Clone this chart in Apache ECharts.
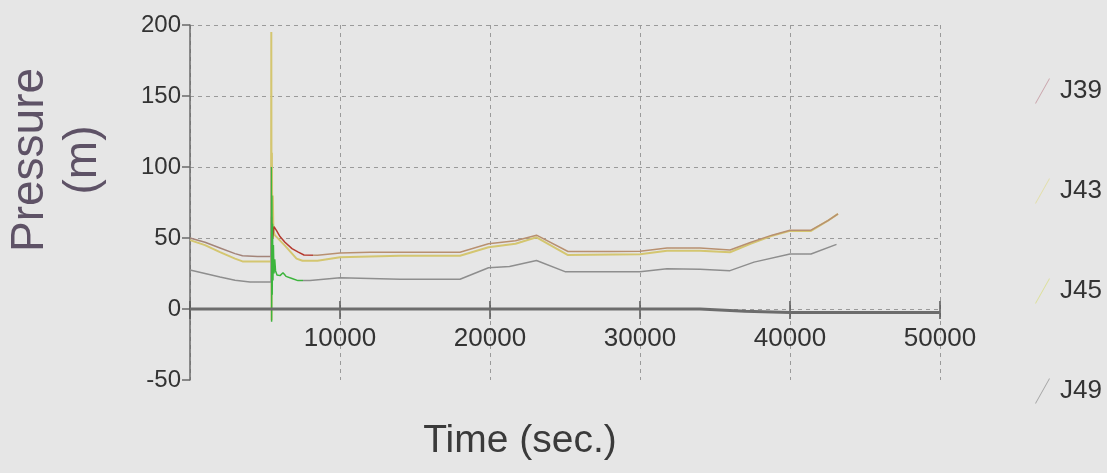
<!DOCTYPE html>
<html>
<head>
<meta charset="utf-8">
<script src="https://cdn.jsdelivr.net/npm/echarts@6/dist/echarts.min.js"></script>
<style>
html,body{margin:0;padding:0;background:#e6e6e6;}
#chart{width:1107px;height:473px;}
</style>
</head>
<body>
<div id="chart"></div>
<script>
// ---- data ----
const seriesNames = ['J39', 'J43', 'J45', 'J49'];
const xTicks = [0, 10000, 20000, 30000, 40000, 50000];
const yTicks = [-50, 0, 50, 100, 150, 200];

const j39T = [0, 1000, 2000, 3000, 3500, 4500, 5400, 5430, 5450, 5480, 5520, 5600, 5780, 6000, 6330, 6800, 7220, 7600, 8500, 10000, 12000, 14000, 16000, 18000, 19900, 21700, 23100, 25200, 28000, 30000, 31800, 34000, 36000, 37400, 38800, 40000, 41400, 42500, 43200];
const j39V = [50, 47, 43, 39, 37.5, 37, 37, 65, 42, 60, 50, 58, 55, 51, 47, 42.5, 40, 38, 37.8, 39.5, 40, 40, 40, 40, 46, 48, 52, 40.5, 40.5, 40.6, 43, 43, 41.6, 47, 52, 55.5, 55.5, 62, 67];

const j43T = [0, 1000, 2000, 3000, 3500, 4500, 5400, 5420, 5440, 5460, 5480, 5520, 5560, 5650, 5780, 6330, 7100, 7500, 8500, 10000, 14000, 18000, 19900, 21700, 23100, 25200, 30000, 31800, 34000, 36000, 37400, 38800, 40000, 41400, 42500, 43200];
const j43V = [48.5, 45, 40, 35.5, 33.5, 33.5, 33.5, 195, -8, 110, 60, 80, 55, 52, 51.6, 44.6, 35.5, 34, 34, 36.5, 37.5, 37.5, 43.5, 46, 50.5, 38, 38.5, 41, 41, 40, 46, 51.5, 55, 55, 62, 67];

const j45T = [0, 1000, 2000, 3000, 4000, 5400, 5420, 5440, 5460, 5480, 5500, 5530, 5560, 5600, 5650, 5700, 5800, 6000, 6200, 6400, 6800, 7200, 8000, 10000, 14000, 18000, 19900, 21300, 23100, 25000, 30000, 31800, 34000, 36000, 37600, 40000, 41400, 43100];
const j45V = [27.4, 25, 22.5, 20.2, 19, 19, 100, -9, 80, 10, 60, 20, 45, 25, 35, 27, 24, 23.5, 25.5, 23, 21.5, 20, 20, 22, 21, 21, 29, 30, 34.2, 26.3, 26.3, 28.3, 28, 27, 33, 38.7, 38.7, 45.5];

const j49T = [0, 34000, 37000, 40000, 50000];
const j49V = [0, 0, -1.5, -2.5, -2.5];

const toPairs = (t, v) => t.map((x, i) => [x, v[i]]);

const chart = echarts.init(document.getElementById('chart'));
const iconPath = 'path://M14,0 L15,0 L1,25 L0,25 Z';
const fontMain = "'Liberation Sans', Arial, sans-serif";
const gridTop = 25, gridBottom = 93, chartH = 473;
// offsets that bring the x-axis tick rows onto the zero level of the y axis
const yMin = yTicks[0], yMax = yTicks[yTicks.length - 1];
const plotH = chartH - gridTop - gridBottom;
const topOffset = -plotH * (yMax / (yMax - yMin));
const bottomOffset = -plotH * (-yMin / (yMax - yMin));

chart.setOption({
  backgroundColor: '#e6e6e6',
  animation: false,
  grid: { left: 190, top: gridTop, right: 167, bottom: gridBottom },
  xAxis: [{
    type: 'value', min: xTicks[0], max: xTicks[xTicks.length - 1], interval: 10000,
    position: 'bottom', offset: bottomOffset,
    axisLine: { show: false, onZero: false },
    axisTick: { show: true, length: 10, lineStyle: { color: '#555', width: 1.5 } },
    axisLabel: {
      margin: 17, color: '#333', fontSize: 26, fontFamily: fontMain,
      formatter: v => (v === 0 ? '' : String(v))
    },
    splitLine: { show: true, lineStyle: { color: '#9a9a9a', type: [4, 4], width: 1 } }
  }, {
    type: 'value', min: xTicks[0], max: xTicks[xTicks.length - 1], interval: 10000,
    position: 'top', offset: topOffset,
    axisLine: { show: false, onZero: false },
    axisTick: { show: true, length: 8, lineStyle: { color: '#555', width: 1.5 } },
    axisLabel: { show: false },
    splitLine: { show: false }
  }],
  yAxis: {
    type: 'value', min: yMin, max: yMax, interval: 50,
    axisLine: { show: true, onZero: false, lineStyle: { color: '#6a6a6a', width: 1.5 } },
    axisTick: { show: true, length: 8, lineStyle: { color: '#6a6a6a', width: 1.5 } },
    axisLabel: { margin: 9, color: '#333', fontSize: 24, fontFamily: fontMain },
    splitLine: {
      show: true,
      lineStyle: { color: ['rgba(0,0,0,0)', '#9a9a9a', '#9a9a9a', '#9a9a9a', '#9a9a9a', '#9a9a9a'], type: [4, 4], width: 1 }
    }
  },
  legend: {
    orient: 'vertical', left: 1030, top: 73,
    itemWidth: 15, itemHeight: 25, itemGap: 74,
    selectedMode: false,
    textStyle: { color: '#333', fontSize: 26, fontFamily: fontMain, padding: [0, 0, 0, 5] },
    data: [
      { name: 'J39', icon: iconPath, itemStyle: { color: '#c9a3aa', borderWidth: 0 } },
      { name: 'J43', icon: iconPath, itemStyle: { color: '#e2dea8', borderWidth: 0 } },
      { name: 'J45', icon: iconPath, itemStyle: { color: '#dcdf98', borderWidth: 0 } },
      { name: 'J49', icon: iconPath, itemStyle: { color: '#a4a4a4', borderWidth: 0 } }
    ]
  },
  visualMap: [{
    show: false, type: 'piecewise', seriesIndex: 1, dimension: 0,
    pieces: [
      { lt: 5380, color: '#a38479' },
      { gte: 5380, lt: 8200, color: '#b53a2e' },
      { gte: 8200, color: '#b89070' }
    ]
  }, {
    show: false, type: 'piecewise', seriesIndex: 2, dimension: 0,
    pieces: [
      { lt: 5380, color: '#8e8e8e' },
      { gte: 5380, lt: 7500, color: '#3db43d' },
      { gte: 7500, color: '#8e8e8e' }
    ]
  }],
  graphic: [
    {
      type: 'text', x: 57, y: 160, rotation: Math.PI / 2,
      style: {
        text: 'Pressure\n(m)', fill: '#5e5266', fontSize: 46, lineHeight: 53,
        fontFamily: fontMain, align: 'center', verticalAlign: 'middle'
      }
    },
    {
      type: 'text', x: 520, y: 441,
      style: {
        text: 'Time (sec.)', fill: '#3a3a3a', fontSize: 39,
        fontFamily: fontMain, align: 'center', verticalAlign: 'middle'
      }
    }
  ],
  series: [
    { name: 'J43', type: 'line', xAxisIndex: 0, data: toPairs(j43T, j43V), showSymbol: false, symbol: 'none',
      lineStyle: { color: '#d4c670', width: 2 }, itemStyle: { color: '#d4c670' } },
    { name: 'J39', type: 'line', xAxisIndex: 0, data: toPairs(j39T, j39V), showSymbol: false, symbol: 'none',
      lineStyle: { width: 1.5 } },
    { name: 'J45', type: 'line', xAxisIndex: 0, data: toPairs(j45T, j45V), showSymbol: false, symbol: 'none',
      lineStyle: { width: 1.5 } },
    { name: 'J49', type: 'line', xAxisIndex: 0, data: toPairs(j49T, j49V), showSymbol: false, symbol: 'none',
      lineStyle: { color: '#6c6c6c', width: 3 }, itemStyle: { color: '#6c6c6c' } }
  ]
});
</script>
</body>
</html>
